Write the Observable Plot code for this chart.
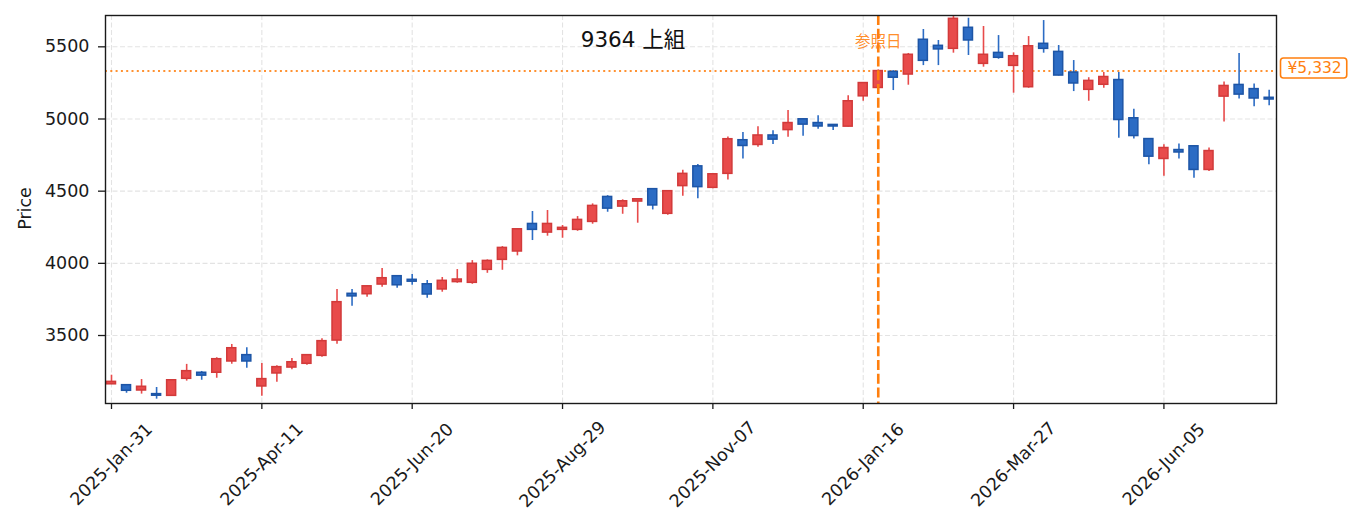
<!DOCTYPE html>
<html>
<head>
<meta charset="utf-8">
<script src="https://cdn.jsdelivr.net/npm/d3@7"></script>
<script src="https://cdn.jsdelivr.net/npm/@observablehq/plot@0.6"></script>
<style>
  html, body { margin: 0; padding: 0; background: #fff; }
  #chart { width: 1355px; height: 532px; }
</style>
</head>
<body>
<div id="chart"></div>
<script>
// ---- Data (weekly OHLC) ----
const weeks = [
  "2025-01-31","2025-02-07","2025-02-14","2025-02-21","2025-02-28","2025-03-07","2025-03-14","2025-03-21","2025-03-28","2025-04-04",
  "2025-04-11","2025-04-18","2025-04-25","2025-05-02","2025-05-09","2025-05-16","2025-05-23","2025-05-30","2025-06-06","2025-06-13",
  "2025-06-20","2025-06-27","2025-07-04","2025-07-11","2025-07-18","2025-07-25","2025-08-01","2025-08-08","2025-08-15","2025-08-22",
  "2025-08-29","2025-09-05","2025-09-12","2025-09-19","2025-09-26","2025-10-03","2025-10-10","2025-10-17","2025-10-24","2025-10-31",
  "2025-11-07","2025-11-14","2025-11-21","2025-11-28","2025-12-05","2025-12-12","2025-12-19","2025-12-26","2026-01-02","2026-01-09",
  "2026-01-16","2026-01-23","2026-01-30","2026-02-06","2026-02-13","2026-02-20","2026-02-27","2026-03-06","2026-03-13","2026-03-20",
  "2026-03-27","2026-04-03","2026-04-10","2026-04-17","2026-04-24","2026-05-01","2026-05-08","2026-05-15","2026-05-22","2026-05-29",
  "2026-06-05","2026-06-12","2026-06-19","2026-06-26","2026-07-03","2026-07-10","2026-07-17","2026-07-24"
];
const openPrices = [
  3162,3156,3119,3094,3082,3200,3242,3242,3320,3364,
  3147,3237,3278,3304,3359,3465,3789,3786,3853,3911,
  3886,3855,3819,3870,3865,3955,4024,4082,4273,4213,
  4232,4232,4287,4460,4393,4428,4514,4343,4535,4672,
  4523,4620,4853,4820,4886,4923,4998,4972,4959,4947,
  5157,5215,5327,5308,5549,5507,5486,5632,5382,5458,
  5368,5220,5521,5465,5322,5202,5237,5270,5005,4861,
  4723,4785,4811,4647,5155,5236,5207,5147
];
const highPrices = [
  3225,3158,3195,3140,3192,3300,3251,3346,3438,3415,
  3306,3290,3341,3366,3477,3819,3819,3843,3964,3913,
  3922,3881,3902,3957,4019,4024,4116,4238,4359,4366,
  4262,4324,4412,4469,4440,4446,4516,4503,4645,4684,
  4620,4876,4906,4947,4918,5058,5000,5022,4961,5161,
  5251,5340,5334,5454,5620,5544,5710,5698,5641,5578,
  5458,5571,5682,5509,5405,5286,5322,5322,5067,4863,
  4822,4827,4813,4799,5257,5454,5242,5200
];
const lowPrices = [
  3160,3100,3094,3059,3080,3184,3190,3204,3301,3274,
  3080,3177,3262,3294,3350,3440,3703,3765,3834,3828,
  3848,3758,3800,3862,3855,3931,3952,4052,4158,4188,
  4174,4222,4271,4354,4340,4278,4370,4333,4465,4447,
  4516,4578,4722,4804,4824,4873,4880,4929,4920,4945,
  5123,5213,5197,5234,5370,5370,5456,5440,5359,5414,
  5179,5213,5456,5298,5190,5123,5213,4867,4861,4683,
  4604,4722,4590,4637,4979,5138,5084,5091
];
const closePrices = [
  3179,3117,3145,3083,3190,3253,3222,3336,3412,3320,
  3198,3281,3315,3364,3461,3731,3771,3841,3897,3848,
  3873,3784,3879,3888,3997,4017,4107,4236,4232,4273,
  4246,4301,4398,4379,4430,4444,4401,4500,4620,4528,
  4617,4860,4813,4886,4857,4972,4961,4948,4948,5123,
  5249,5332,5286,5445,5403,5482,5694,5544,5445,5424,
  5435,5504,5486,5301,5246,5264,5291,4993,4882,4739,
  4799,4768,4647,4778,5229,5169,5142,5135
];
const xTickLabels = ["2025-Jan-31","2025-Apr-11","2025-Jun-20","2025-Aug-29","2025-Nov-07","2026-Jan-16","2026-Mar-27","2026-Jun-05"];
const yTicks = [3500, 4000, 4500, 5000, 5500];
const chartTitle = "9364 上組";
const yLabel = "Price";
const refDateStr = "2026-01-23";
const refText = "参照日";
const refPrice = 5332;

// ---- Styling ----
const UP_FILL = "#e84b4b", UP_STROKE = "#d23a3a";
const DN_FILL = "#2c6cc4", DN_STROKE = "#1d55a6";
const ORANGE = "#ff7f0e";
const FONT = "'DejaVu Sans', 'Noto Sans CJK JP', sans-serif";

const parseDay = d3.utcParse("%Y-%m-%d");
const parseTick = d3.utcParse("%Y-%b-%d");
const DAY = 864e5;
const HALF = 2.1 * DAY;

const candles = weeks.map((w, i) => {
  const date = parseDay(w);
  const o = openPrices[i], c = closePrices[i];
  return {
    date, open: o, close: c, high: highPrices[i], low: lowPrices[i],
    up: c >= o,
    x1: new Date(+date - HALF), x2: new Date(+date + HALF),
    bodyLo: Math.min(o, c), bodyHi: Math.max(o, c)
  };
});
const xTicks = xTickLabels.map(parseTick);
const refDate = parseDay(refDateStr);
const refLabel = "¥" + d3.format(",")(refPrice);

const gridStyle = {stroke: "#e3e3e3", strokeOpacity: 1, strokeWidth: 1.1, strokeDasharray: "5,2.5"};

const svg = Plot.plot({
  width: 1355,
  height: 532,
  marginLeft: 105,
  marginRight: 79,
  marginTop: 15,
  marginBottom: 129,
  style: {fontFamily: FONT, fontSize: "17.5px", color: "#1a1a1a", background: "#fff", overflow: "visible"},
  x: {type: "utc", domain: [new Date(Date.UTC(2025, 0, 28, 5)), new Date(Date.UTC(2026, 6, 27, 10))]},
  y: {domain: [3029, 5717]},
  color: {type: "identity"},
  marks: [
    Plot.gridX(xTicks, gridStyle),
    Plot.gridY(yTicks, gridStyle),
    Plot.ruleY([refPrice], {stroke: ORANGE, strokeWidth: 2, strokeDasharray: "2,3.3", strokeOpacity: 0.85}),
    Plot.ruleX(candles, {x: "date", y1: "low", y2: "high", stroke: d => d.up ? UP_FILL : DN_FILL, strokeWidth: 1.6}),
    Plot.rect(candles, {x1: "x1", x2: "x2", y1: "bodyLo", y2: "bodyHi",
      fill: d => d.up ? UP_FILL : DN_FILL, stroke: d => d.up ? UP_STROKE : DN_STROKE, strokeWidth: 1.5}),
    Plot.text([refText], {x: () => refDate, frameAnchor: "top", dy: 20, fill: ORANGE, fontSize: 15.5, fillOpacity: 0.9}),
    Plot.ruleX([refDate], {stroke: ORANGE, strokeWidth: 2.6, strokeDasharray: "10,3.8"}),
    Plot.frame({stroke: "#1a1a1a", strokeWidth: 1.4}),
    Plot.axisY({ticks: yTicks, tickSize: 7, tickPadding: 9, tickFormat: d3.format("d"), label: null, fontSize: 17.5, strokeWidth: 1.3}),
    Plot.axisX({ticks: xTicks, tickSize: 6, tickFormat: () => "", label: null, strokeWidth: 1.3}),
    Plot.text(xTicks, {x: d => d, text: (d, i) => xTickLabels[i], frameAnchor: "bottom", dy: 61,
      rotate: -45, textAnchor: "middle", lineAnchor: "middle", fontSize: 17.5, fill: "#1a1a1a"}),
    Plot.text([yLabel], {frameAnchor: "left", dx: -80, dy: -1, rotate: -90, textAnchor: "middle", fontSize: 17.5, fill: "#1a1a1a"}),
    Plot.text([chartTitle], {frameAnchor: "top", dx: -58, dy: 25, fontSize: 21.5, fill: "#111", lineAnchor: "middle"}),
    Plot.text([refPrice], {y: d => d, text: () => refLabel, frameAnchor: "right", dx: 11, dy: -3,
      textAnchor: "start", fill: ORANGE, fontSize: 15.5, className: "ref-label"})
  ]
});

document.getElementById("chart").appendChild(svg);

// Rounded box behind the reference price label
const label = svg.querySelector(".ref-label text");
if (label) {
  const b = label.getBBox();
  const ns = "http://www.w3.org/2000/svg";
  const rect = document.createElementNS(ns, "rect");
  const tr = label.getAttribute("transform");
  rect.setAttribute("x", b.x - 7);
  rect.setAttribute("y", b.y - 1);
  rect.setAttribute("width", b.width + 12);
  rect.setAttribute("height", b.height + 2);
  rect.setAttribute("rx", 3);
  rect.setAttribute("fill", "#fff");
  rect.setAttribute("stroke", ORANGE);
  rect.setAttribute("stroke-width", 1.6);
  if (tr) rect.setAttribute("transform", tr);
  label.parentNode.insertBefore(rect, label);
}
</script>
</body>
</html>
